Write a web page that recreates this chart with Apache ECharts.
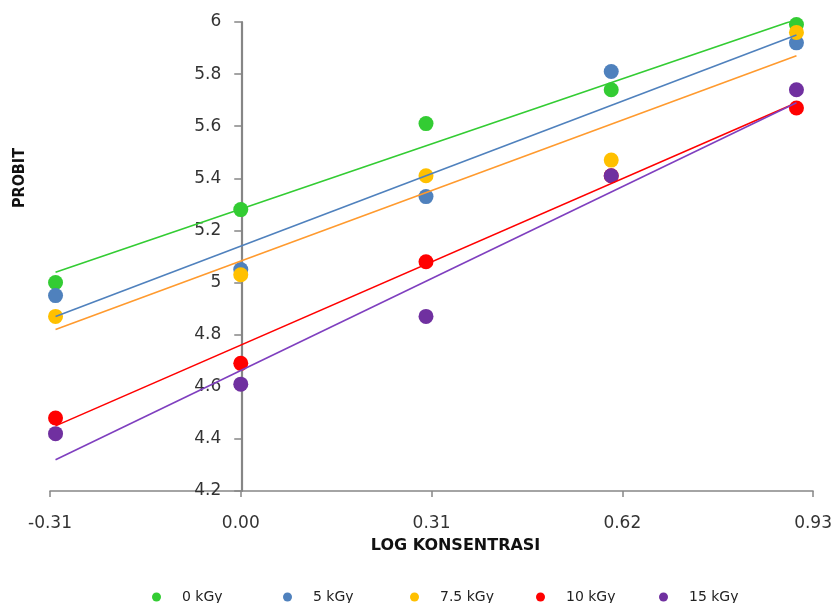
<!DOCTYPE html>
<html>
<head>
<meta charset="utf-8">
<script src="https://cdn.jsdelivr.net/npm/echarts@6/dist/echarts.min.js"></script>
<style>
html,body{margin:0;padding:0;background:#fff;}
#chart{width:835px;height:603px;}
</style>
</head>
<body>
<div id="chart"></div>
<script>
// Data
const xValues = [-0.301, 0, 0.301, 0.602, 0.903];
const seriesNames = ['0 kGy', '5 kGy', '7.5 kGy', '10 kGy', '15 kGy'];
const probit0 = [5.00, 5.28, 5.61, 5.74, 5.99];
const probit5 = [4.95, 5.05, 5.33, 5.81, 5.92];
const probit75 = [4.87, 5.03, 5.41, 5.47, 5.96];
const probit10 = [4.48, 4.69, 5.08, 5.41, 5.67];
const probit15 = [4.42, 4.61, 4.87, 5.41, 5.74];
const trendX = [-0.301, 0.903];
const trendStart = [5.04, 4.87, 4.82, 4.45, 4.32];
const trendEnd = [6.01, 5.95, 5.87, 5.69, 5.69];
const xAxisTicks = [-0.31, 0, 0.31, 0.62, 0.93];
const yAxisTicks = [4.2, 4.4, 4.6, 4.8, 5, 5.2, 5.4, 5.6, 5.8, 6];

const allProbit = [probit0, probit5, probit75, probit10, probit15];
const pointColors = ['#33CC33', '#4F81BD', '#FFC000', '#FF0000', '#7030A0'];
const lineColors = ['#33CC33', '#4F81BD', '#FF9A2E', '#FF0000', '#7F3FBF'];
const legendLeft = [152, 283, 410, 536, 659];

const gridLeft = 50, gridRight = 20;
const plotWidth = 835 - gridLeft - gridRight;
const xMin = xAxisTicks[0], xMax = xAxisTicks[xAxisTicks.length - 1];
// y axis crosses at x = 0
const yAxisOffset = -plotWidth * (0 - xMin) / (xMax - xMin);

const series = [];
allProbit.forEach((vals, i) => {
  series.push({
    name: seriesNames[i],
    type: 'scatter',
    data: xValues.map((x, j) => [x, vals[j]]),
    symbol: 'circle',
    symbolSize: 15,
    itemStyle: { color: pointColors[i], opacity: 1 },
    z: 2
  });
});
allProbit.forEach((vals, i) => {
  series.push({
    name: 'trend ' + seriesNames[i],
    type: 'line',
    data: [[trendX[0], trendStart[i]], [trendX[1], trendEnd[i]]],
    showSymbol: false,
    symbol: 'none',
    lineStyle: { color: lineColors[i], width: 1.6 },
    z: 3,
    silent: true
  });
});

const legends = seriesNames.map((n, i) => ({
  data: [n],
  left: legendLeft[i],
  top: 590,
  padding: 0,
  icon: 'circle',
  itemWidth: 9,
  itemHeight: 9,
  selectedMode: false,
  textStyle: {
    fontFamily: 'DejaVu Sans',
    fontSize: 14,
    color: '#222',
    padding: [0, 0, 0, 16],
    lineHeight: 14
  }
}));

const chart = echarts.init(document.getElementById('chart'), null, { renderer: 'canvas' });
chart.setOption({
  animation: false,
  backgroundColor: '#ffffff',
  legend: legends,
  grid: { left: gridLeft, right: gridRight, top: 22, bottom: 112, containLabel: false },
  xAxis: {
    type: 'value',
    min: xMin,
    max: xMax,
    interval: 0.31,
    splitLine: { show: false },
    axisLine: { show: true, onZero: false, lineStyle: { color: '#868686', width: 1.5 } },
    axisTick: { show: true, length: 6, lineStyle: { color: '#868686', width: 1.5 } },
    axisLabel: {
      margin: 24,
      fontFamily: 'DejaVu Sans',
      fontSize: 17,
      color: '#333',
      showMinLabel: true,
      showMaxLabel: true,
      formatter: v => (Math.abs(v) < 1e-9 ? 0 : v).toFixed(2)
    },
    name: 'LOG KONSENTRASI',
    nameLocation: 'middle',
    nameGap: 47,
    nameTextStyle: {
      fontFamily: 'DejaVu Sans',
      fontWeight: 'bold',
      fontSize: 16,
      color: '#111',
      padding: [0, 0, 0, 48]
    }
  },
  yAxis: {
    type: 'value',
    min: yAxisTicks[0],
    max: yAxisTicks[yAxisTicks.length - 1],
    interval: 0.2,
    offset: yAxisOffset,
    splitLine: { show: false },
    axisLine: { show: true, onZero: false, lineStyle: { color: '#868686', width: 2.2 } },
    axisTick: { show: true, length: 7, lineStyle: { color: '#868686', width: 1.5 } },
    axisLabel: {
      margin: 20,
      fontFamily: 'DejaVu Sans',
      fontSize: 17,
      color: '#333',
      showMinLabel: true,
      showMaxLabel: true,
      formatter: v => String(parseFloat(v.toFixed(1)))
    }
  },
  graphic: [{
    type: 'text',
    x: 20,
    y: 178,
    rotation: Math.PI / 2,
    style: {
      text: 'PROBIT',
      fontFamily: 'DejaVu Sans Condensed, DejaVu Sans',
      fontWeight: 'bold',
      fontSize: 16,
      fill: '#111',
      textAlign: 'center',
      textVerticalAlign: 'middle'
    }
  }],
  series: series
});
</script>
</body>
</html>
